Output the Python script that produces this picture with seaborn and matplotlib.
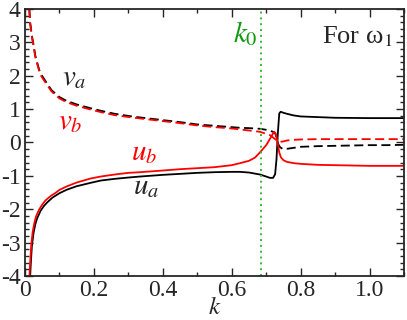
import numpy as np
import pandas as pd
import matplotlib
matplotlib.use('Agg')
import matplotlib.pyplot as plt
from matplotlib.ticker import MultipleLocator, FixedLocator, FixedFormatter
import seaborn as sns

# values
k_va = [0.0125, 0.015, 0.02, 0.024, 0.03, 0.039, 0.044, 0.052, 0.065, 0.077, 0.09, 0.10, 0.12,
        0.15, 0.189, 0.22, 0.26, 0.31, 0.334, 0.4, 0.45, 0.5, 0.55, 0.6, 0.624, 0.65, 0.682,
        0.70, 0.711, 0.72, 0.726, 0.73, 0.735, 0.74, 0.749, 0.76, 0.78, 0.8, 0.85, 0.9, 0.95,
        1.0, 1.05, 1.1]
v_a = [4.0, 3.6, 3.2, 2.98, 2.6, 2.26, 2.08, 1.96, 1.75, 1.57, 1.45, 1.36, 1.25,
       1.14, 1.03, 0.95, 0.86, 0.78, 0.75, 0.67, 0.61, 0.54, 0.50, 0.46, 0.44, 0.43, 0.41,
       0.38, 0.35, 0.32, 0.28, 0.15, -0.05, -0.14, -0.2, -0.19, -0.16, -0.13, -0.11, -0.10, -0.09,
       -0.08, -0.08, -0.07]

k_vb = k_va
v_b = [4.0, 3.55, 3.15, 2.93, 2.55, 2.22, 2.04, 1.91, 1.71, 1.53, 1.41, 1.32, 1.21,
       1.10, 0.99, 0.91, 0.82, 0.75, 0.72, 0.64, 0.58, 0.51, 0.46, 0.42, 0.39, 0.36, 0.32,
       0.26, 0.22, 0.15, 0.10, 0.07, 0.04, 0.02, 0.03, 0.06, 0.08, 0.09, 0.10, 0.10, 0.10,
       0.10, 0.10, 0.10]

k_ua = [0.015, 0.017, 0.02, 0.025, 0.03, 0.035, 0.045, 0.055, 0.065, 0.08, 0.1, 0.12, 0.15,
        0.19, 0.22, 0.26, 0.3, 0.334, 0.4, 0.45, 0.5, 0.55, 0.6, 0.624, 0.65, 0.682, 0.70,
        0.711, 0.72, 0.726, 0.73, 0.734, 0.738, 0.742, 0.75, 0.76, 0.78, 0.8, 0.85, 0.9, 1.0, 1.1]
u_a = [-4.0, -3.6, -3.1, -2.7, -2.45, -2.28, -2.05, -1.9, -1.79, -1.65, -1.52, -1.42, -1.31,
       -1.21, -1.14, -1.09, -1.05, -1.02, -0.97, -0.94, -0.91, -0.89, -0.88, -0.88, -0.9, -0.96, -1.02,
       -1.06, -1.06, -0.95, -0.5, 0.3, 0.87, 0.92, 0.89, 0.86, 0.81, 0.78, 0.76, 0.74, 0.73, 0.73]

k_ub = [0.013, 0.015, 0.018, 0.022, 0.027, 0.032, 0.04, 0.05, 0.06, 0.075, 0.09, 0.1, 0.12,
        0.15, 0.19, 0.22, 0.26, 0.3, 0.334, 0.4, 0.45, 0.5, 0.55, 0.6, 0.624, 0.65, 0.668,
        0.687, 0.70, 0.706, 0.716, 0.723, 0.727, 0.731, 0.735, 0.738, 0.743, 0.75, 0.76, 0.78,
        0.8, 0.85, 0.9, 1.0, 1.1]
u_b = [-4.0, -3.6, -3.1, -2.7, -2.42, -2.22, -2.03, -1.86, -1.73, -1.6, -1.5, -1.42, -1.32,
       -1.2, -1.08, -1.02, -0.96, -0.91, -0.89, -0.84, -0.8, -0.77, -0.74, -0.68, -0.62, -0.55, -0.45,
       -0.24, -0.08, 0.02, 0.2, 0.32, 0.28, 0.12, -0.12, -0.3, -0.45, -0.53, -0.58, -0.62,
       -0.64, -0.67, -0.68, -0.7, -0.7]

k0 = 0.684
xtick_vals = [0, 0.2, 0.4, 0.6, 0.8, 1.0]
xtick_labels = ['0', '0.2', '0.4', '0.6', '0.8', '1.0']
ytick_vals = [-4, -3, -2, -1, 0, 1, 2, 3, 4]

sns.set_style('ticks')
plt.rcParams['font.family'] = ['Liberation Serif', 'DejaVu Serif']
plt.rcParams['mathtext.fontset'] = 'stix'
plt.rcParams['axes.unicode_minus'] = False

fig = plt.figure(figsize=(4.07, 3.2), dpi=100)
ax = fig.add_axes([0.0614, 0.1375, 0.9312, 0.8345])

dash = (0, (5, 2.5))
sns.lineplot(x=k_va, y=v_a, ax=ax, color='black', lw=1.3, sort=False, estimator=None, linestyle=dash)
sns.lineplot(x=k_vb, y=v_b, ax=ax, color='red', lw=1.3, sort=False, estimator=None, linestyle=dash)
sns.lineplot(x=k_ua, y=u_a, ax=ax, color='black', lw=1.3, sort=False, estimator=None)
sns.lineplot(x=k_ub, y=u_b, ax=ax, color='red', lw=1.3, sort=False, estimator=None)
ax.axvline(k0, color='#33bb33', lw=1.4, linestyle=(0, (1, 2)))

ax.set_xlim(0, 1.1)
ax.set_ylim(-4, 4)
ax.xaxis.set_major_locator(FixedLocator(xtick_vals))
ax.xaxis.set_major_formatter(FixedFormatter(xtick_labels))
ax.xaxis.set_minor_locator(MultipleLocator(0.1))
ax.yaxis.set_major_locator(FixedLocator(ytick_vals))
ax.yaxis.set_minor_locator(MultipleLocator(0.2))
ax.tick_params(which='both', direction='in', top=True, right=True, labelsize=17, width=1, pad=3)
ax.tick_params(which='major', length=6)
ax.tick_params(which='minor', length=3)
for s in ax.spines.values():
    s.set_linewidth(1.3)

ax.set_xlabel('$k$', fontsize=18, labelpad=-3)
ax.set_ylabel('')

ax.text(0.142, 1.93, '$v_a$', fontsize=21, ha='center', va='center')
ax.text(0.131, 0.61, '$v_b$', fontsize=21, ha='center', va='center', color='red')
ax.text(0.345, -0.31, '$u_b$', fontsize=21, ha='center', va='center', color='red')
ax.text(0.351, -1.33, '$u_a$', fontsize=21, ha='center', va='center')
ax.text(0.639, 3.25, r'$k_{\mathit{0}}$', fontsize=21, ha='center', va='center', color='#119911')
ax.text(1.066, 2.98, 'For ω$_1$', fontsize=19, ha='right', va='baseline')

plt.savefig('out.png', dpi=100)
